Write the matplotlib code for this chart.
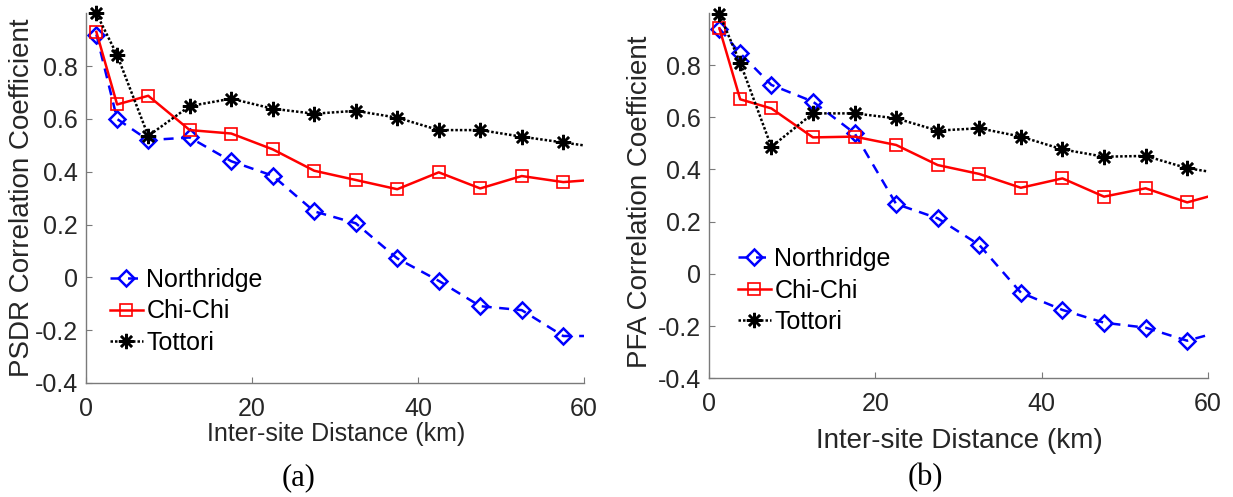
import numpy as np
import matplotlib
matplotlib.use('Agg')
import matplotlib.pyplot as plt

plt.rcParams['font.family'] = ['Liberation Sans', 'DejaVu Sans']

# inter-site distance bin centres (km); the last bin lies past the axis and is clipped
dist = [1.25, 3.75, 7.5, 12.5, 17.5, 22.5, 27.5, 32.5, 37.5, 42.5, 47.5, 52.5, 57.5, 62.5]

# (a) PSDR
psdr_northridge = [0.92, 0.60, 0.52, 0.53, 0.44, 0.385, 0.25, 0.205, 0.072, -0.013, -0.109, -0.124, -0.222, -0.222]
psdr_chichi = [0.93, 0.655, 0.688, 0.558, 0.545, 0.485, 0.404, 0.369, 0.334, 0.398, 0.337, 0.384, 0.361, 0.373]
psdr_tottori = [1.0, 0.842, 0.536, 0.649, 0.677, 0.639, 0.62, 0.631, 0.605, 0.558, 0.558, 0.533, 0.511, 0.489]

# (b) PFA
pfa_northridge = [0.94, 0.845, 0.724, 0.66, 0.539, 0.268, 0.213, 0.111, -0.072, -0.138, -0.187, -0.206, -0.256, -0.212]
pfa_chichi = [0.941, 0.669, 0.634, 0.523, 0.526, 0.494, 0.417, 0.383, 0.33, 0.366, 0.296, 0.328, 0.274, 0.318]
pfa_tottori = [0.995, 0.809, 0.487, 0.615, 0.615, 0.596, 0.549, 0.558, 0.526, 0.477, 0.449, 0.452, 0.405, 0.38]

names = ['Northridge', 'Chi-Chi', 'Tottori']
yticks = [-0.4, -0.2, 0, 0.2, 0.4, 0.6, 0.8]
ytick_labels = ['-0.4', '-0.2', '0', '0.2', '0.4', '0.6', '0.8']
xticks = [0, 20, 40, 60]
xmax = 60

W, H = 1233, 497
fig = plt.figure(figsize=(W / 100, H / 100), dpi=100)

grey = '#262626'
spine_col = '#7a7a7a'

styles = [
    dict(color='#0000ff', dashes=(4, 3), marker='D', ms=8, mfc='none', mec='#0000ff', mew=1.8),
    dict(color='#ff0000', marker='s', ms=8, mfc='none', mec='#ff0000', mew=1.2),
    dict(color='black', dashes=(1, 0.8), marker=(8, 2, 0), ms=11, mec='black', mew=1.8),
]


def draw(ax, series, ylabel, xlabel_size, ylab_xy, xlab_xy, leg_xy):
    handles = []
    for vals, name, st in zip(series, names, styles):
        st = dict(st)
        mk = dict(marker=st.pop('marker'), ms=st.pop('ms'), mfc=st.pop('mfc', st['color']),
                  mec=st.pop('mec'), mew=st.pop('mew'))
        # line clipped to the axes
        ax.plot(dist, vals, lw=1.8, **st)
        # markers of in-range points are drawn whole, like MATLAB
        xs = [d for d in dist if d <= xmax]
        ys = [v for d, v in zip(dist, vals) if d <= xmax]
        ax.plot(xs, ys, ls='none', clip_on=False, **mk)
        h, = ax.plot([], [], lw=1.8, label=name, **st, **mk)
        handles.append(h)
    ax.set_xlim(0, xmax)
    ax.set_ylim(-0.4, 1.0)
    ax.set_xticks(xticks)
    ax.set_yticks(yticks)
    ax.set_yticklabels(ytick_labels)
    for s in ['top', 'right']:
        ax.spines[s].set_visible(False)
    for s in ['left', 'bottom']:
        ax.spines[s].set_color(spine_col)
        ax.spines[s].set_linewidth(1.0)
    ax.tick_params(direction='in', length=4, width=0.8, color=spine_col,
                   labelsize=18, labelcolor=grey)
    ax.tick_params(axis='x', pad=10)
    ax.tick_params(axis='y', pad=6)
    ax.set_ylabel(ylabel, fontsize=20, color=grey, va='center')
    ax.yaxis.set_label_coords(*ylab_xy)
    ax.set_xlabel('Inter-site Distance (km)', fontsize=xlabel_size, color=grey)
    ax.xaxis.set_label_coords(*xlab_xy)
    ax.legend(handles=handles, loc='upper left', bbox_to_anchor=leg_xy,
              bbox_transform=fig.transFigure, frameon=False, fontsize=18,
              handlelength=1.3, handletextpad=0.15, labelspacing=0.3,
              borderpad=0, borderaxespad=0)


ax1 = fig.add_axes([86 / W, 1 - 383 / H, 498 / W, 369.6 / H])
draw(ax1, [psdr_northridge, psdr_chichi, psdr_tottori], 'PSDR Correlation Coefficient', 18,
     (-0.128, 0.5), (0.502, -0.105), (110 / W, 1 - 268 / H))

ax2 = fig.add_axes([709 / W, 1 - 378.3 / H, 499 / W, 365.4 / H])
draw(ax2, [pfa_northridge, pfa_chichi, pfa_tottori], 'PFA Correlation Coefficient', 20,
     (-0.138, 0.484), (0.501, -0.135), (738 / W, 1 - 247 / H))

fig.text(299 / W, 1 - 478 / H, '(a)', ha='center', va='center', fontsize=22,
         family='Liberation Serif')
fig.text(925 / W, 1 - 478 / H, '(b)', ha='center', va='center', fontsize=22,
         family='Liberation Serif')

fig.savefig('out.png', dpi=100)
